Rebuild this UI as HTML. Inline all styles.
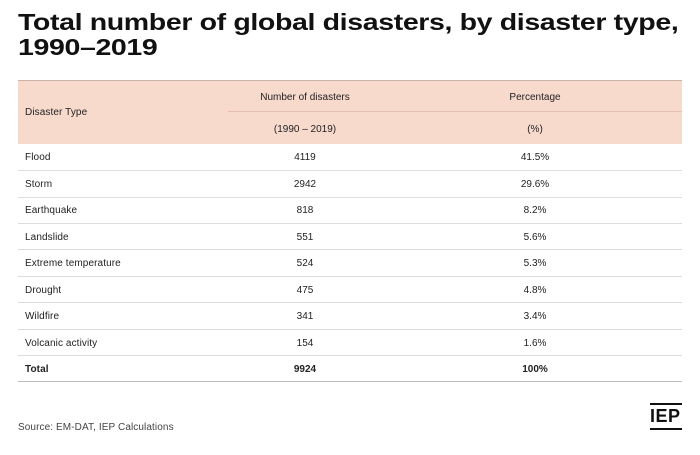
<!DOCTYPE html>
<html><head><style>
body{margin:0;width:700px;height:455px;background:#fff;font-family:"Liberation Sans",sans-serif;color:#222;position:relative;overflow:hidden}
.t{position:absolute;left:18px;top:10px;font-size:23px;font-weight:bold;line-height:25px;letter-spacing:-0.3px;color:#111;transform:scaleX(1.24);transform-origin:0 0;white-space:nowrap}
.hd{position:absolute;left:18px;top:80px;width:664px;height:63px;background:#f8dacd;border-top:1px solid #c9b2a8}
.sub{position:absolute;left:228px;top:111px;width:454px;height:1px;background:#e6bfb0}
.c{position:absolute;font-size:10px;transform:translateX(-50%);white-space:nowrap}
.l{position:absolute;left:25px;font-size:10px;letter-spacing:0.1px}
.ln{position:absolute;left:18px;width:664px;height:1px;background:#ddd}
.b{font-weight:bold}
</style></head><body>
<div class="t">Total number of global disasters, by disaster type,<br>1990–2019</div>
<div class="hd"></div><div class="sub"></div>
<div class="l" style="top:107px">Disaster Type</div>
<div class="c" style="left:305px;top:92px">Number of disasters</div>
<div class="c" style="left:535px;top:92px">Percentage</div>
<div class="c" style="left:305px;top:124px">(1990 – 2019)</div>
<div class="c" style="left:535px;top:124px">(%)</div>
<div class="l" style="top:152px">Flood</div><div class="c" style="left:305px;top:152px">4119</div><div class="c" style="left:535px;top:152px">41.5%</div><div class="ln" style="top:170px"></div>
<div class="l" style="top:179px">Storm</div><div class="c" style="left:305px;top:179px">2942</div><div class="c" style="left:535px;top:179px">29.6%</div><div class="ln" style="top:197px"></div>
<div class="l" style="top:205px">Earthquake</div><div class="c" style="left:305px;top:205px">818</div><div class="c" style="left:535px;top:205px">8.2%</div><div class="ln" style="top:223px"></div>
<div class="l" style="top:232px">Landslide</div><div class="c" style="left:305px;top:232px">551</div><div class="c" style="left:535px;top:232px">5.6%</div><div class="ln" style="top:249px"></div>
<div class="l" style="top:258px">Extreme temperature</div><div class="c" style="left:305px;top:258px">524</div><div class="c" style="left:535px;top:258px">5.3%</div><div class="ln" style="top:276px"></div>
<div class="l" style="top:285px">Drought</div><div class="c" style="left:305px;top:285px">475</div><div class="c" style="left:535px;top:285px">4.8%</div><div class="ln" style="top:302px"></div>
<div class="l" style="top:311px">Wildfire</div><div class="c" style="left:305px;top:311px">341</div><div class="c" style="left:535px;top:311px">3.4%</div><div class="ln" style="top:329px"></div>
<div class="l" style="top:338px">Volcanic activity</div><div class="c" style="left:305px;top:338px">154</div><div class="c" style="left:535px;top:338px">1.6%</div><div class="ln" style="top:355px"></div>
<div class="l b" style="top:364px">Total</div><div class="c b" style="left:305px;top:364px">9924</div><div class="c b" style="left:535px;top:364px">100%</div><div class="ln" style="top:381px;background:#bbb"></div>
<div class="l" style="left:18px;top:422px;font-size:10px;color:#444">Source: EM-DAT, IEP Calculations</div>
<div style="position:absolute;left:650px;top:403px;width:32px;height:2px;background:#111"></div>
<div style="position:absolute;left:650px;top:405px;font-size:18px;font-weight:bold;letter-spacing:0.5px;color:#111;line-height:22px">IEP</div>
<div style="position:absolute;left:650px;top:428px;width:32px;height:2px;background:#111"></div>
</body></html>
